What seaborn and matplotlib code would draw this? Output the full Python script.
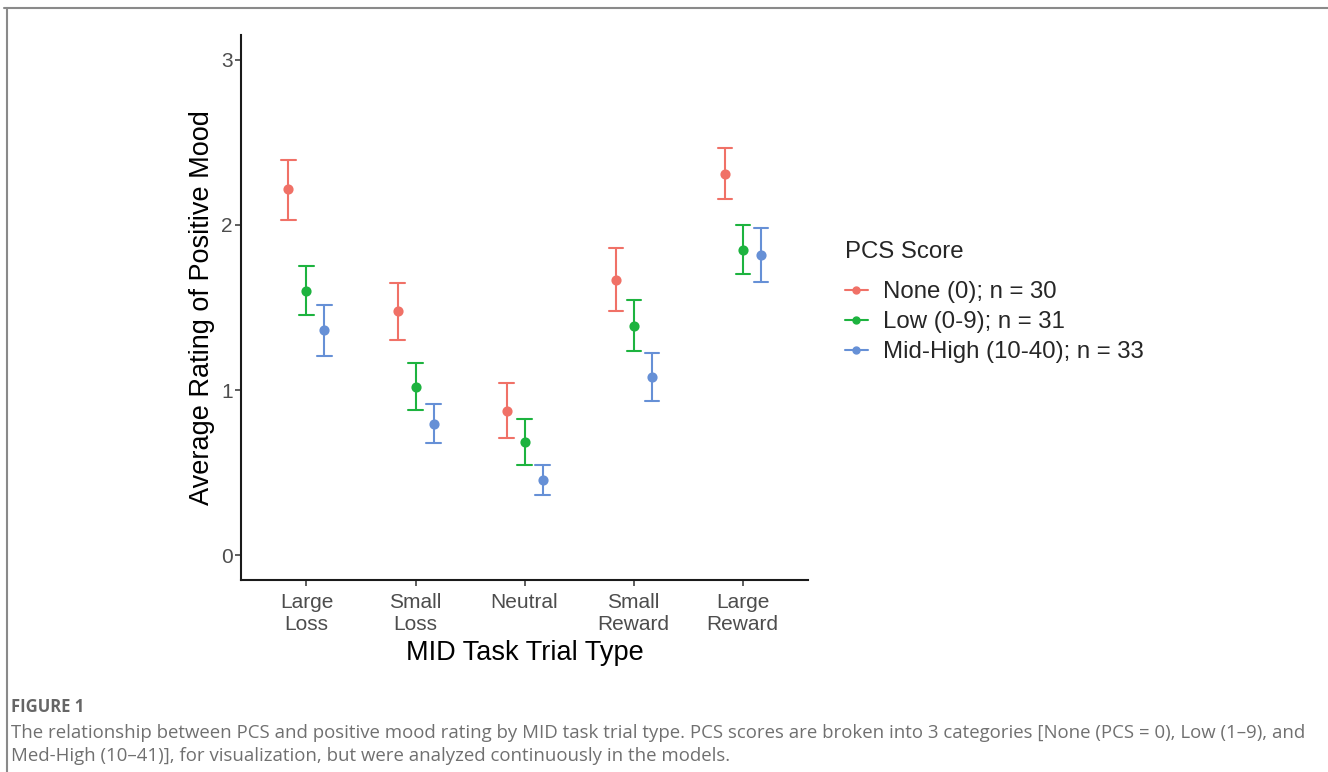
import numpy as np
import pandas as pd
import seaborn as sns
import matplotlib.pyplot as plt
from matplotlib.lines import Line2D

# Data
trial_types = ['Large\nLoss', 'Small\nLoss', 'Neutral', 'Small\nReward', 'Large\nReward']
groups = ['None (0); n = 30', 'Low (0-9); n = 31', 'Mid-High (10-40); n = 33']

mean_none = [2.215, 1.479, 0.875, 1.666, 2.311]
low_none = [2.030, 1.304, 0.712, 1.479, 2.155]
high_none = [2.390, 1.648, 1.044, 1.859, 2.468]

mean_low = [1.600, 1.020, 0.688, 1.388, 1.847]
low_low = [1.455, 0.881, 0.549, 1.237, 1.702]
high_low = [1.750, 1.165, 0.827, 1.545, 1.998]

mean_mid = [1.364, 0.797, 0.453, 1.080, 1.817]
low_mid = [1.207, 0.682, 0.362, 0.935, 1.654]
high_mid = [1.515, 0.917, 0.549, 1.225, 1.980]

colors = ['#F07167', '#1DB33F', '#6690D6']

# long table: lower bound, mean, upper bound per point -> median = mean, min/max = CI
rows = []
for g, (m, lo, hi) in zip(groups, [(mean_none, low_none, high_none),
                                    (mean_low, low_low, high_low),
                                    (mean_mid, low_mid, high_mid)]):
    for i, t in enumerate(trial_types):
        for v in (lo[i], m[i], hi[i]):
            rows.append({'trial': t, 'group': g, 'mood': v})
df = pd.DataFrame(rows)

sns.set_style('white')
plt.rcParams['font.family'] = ['Liberation Sans', 'DejaVu Sans']

fig = plt.figure(figsize=(13.28, 7.72), dpi=100)
ax = fig.add_axes([0.1815, 0.2487, 0.427, 0.706])

sns.pointplot(data=df, x='trial', y='mood', hue='group', order=trial_types, hue_order=groups,
              palette=colors, estimator=np.median, errorbar=lambda x: (x.min(), x.max()),
              dodge=0.33, linestyle='none', markers='o', markersize=5.3, capsize=0.13,
              err_kws={'linewidth': 1.5}, ax=ax, legend=False)

ax.set_xlim(-0.6, 4.6)
ax.set_ylim(-0.15, 3.15)
ax.set_yticks([0, 1, 2, 3])
ax.set_yticklabels(['0', '1', '2', '3'])
ax.tick_params(axis='both', bottom=True, left=True, labelsize=15, colors='#333333',
               labelcolor='#4D4D4D', length=4, width=1.1, direction='out', pad=2)
ax.tick_params(axis='x', pad=5)
ax.set_xlabel('MID Task Trial Type', fontsize=19.5, color='black', labelpad=5)
ax.set_ylabel('Average Rating of Positive Mood', fontsize=19.5, color='black', labelpad=4)
sns.despine(ax=ax)
for s in ['left', 'bottom']:
    ax.spines[s].set_color('#1a1a1a')
    ax.spines[s].set_linewidth(1.5)

handles = [Line2D([0], [0], color=c, marker='o', markersize=5, linewidth=1.5) for c in colors]
leg = fig.legend(handles, groups, title='PCS Score', loc='upper left', bbox_to_anchor=(0.62, 0.716),
                 frameon=False, fontsize=17.3, title_fontsize=17.3, handlelength=0.95, handletextpad=0.65,
                 labelspacing=0.34, alignment='left')
leg._legend_box.sep = 13

# page frame and caption
fig.add_artist(Line2D([0.003, 1.0], [0.9896, 0.9896], transform=fig.transFigure, color='#8a8a8a', linewidth=1.5))
fig.add_artist(Line2D([0.0053, 0.0053], [0.0, 0.9896], transform=fig.transFigure, color='#8a8a8a', linewidth=1.5))
fig.text(0.008, 0.084, 'FIGURE 1', fontsize=12, color='#666666', family=['Open Sans', 'DejaVu Sans'],
         fontweight='bold', va='center')
fig.text(0.008, 0.051, 'The relationship between PCS and positive mood rating by MID task trial type. '
         'PCS scores are broken into 3 categories [None (PCS = 0), Low (1–9), and',
         fontsize=13.4, color='#707070', family=['Open Sans', 'DejaVu Sans'], va='center')
fig.text(0.008, 0.021, 'Med-High (10–41)], for visualization, but were analyzed continuously in the models.',
         fontsize=13.4, color='#707070', family=['Open Sans', 'DejaVu Sans'], va='center')

fig.savefig('out.png', dpi=100)
